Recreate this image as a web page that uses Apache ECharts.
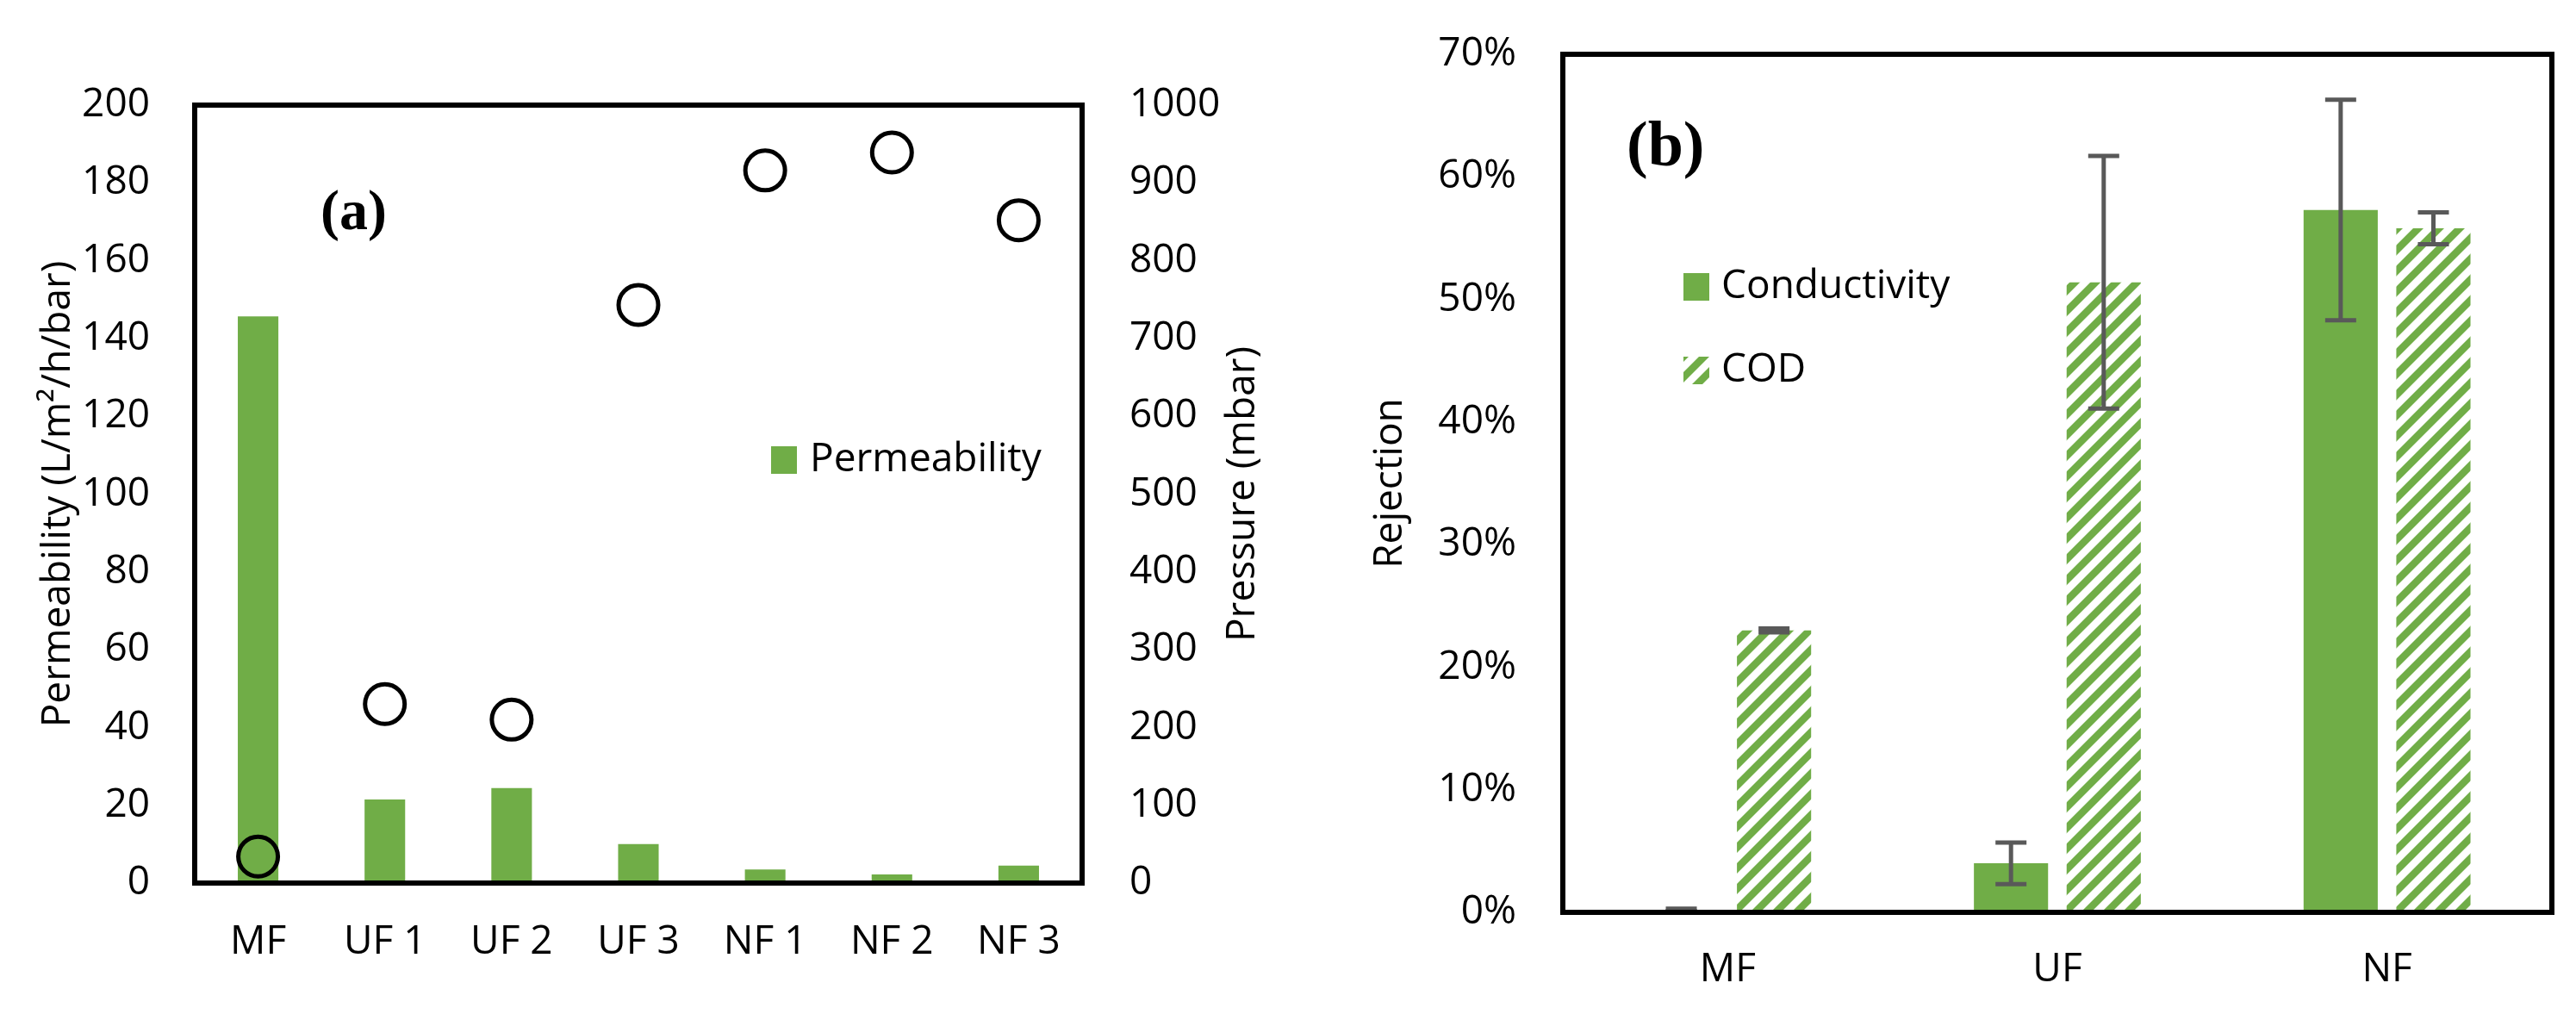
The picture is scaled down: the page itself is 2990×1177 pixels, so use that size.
<!DOCTYPE html>
<html>

<head>
    <meta charset="utf-8">
    <title>ECharts</title>
    <script src="https://cdn.jsdelivr.net/npm/echarts@6/dist/echarts.min.js"></script>
    <style>
        * {
            margin: 0;
            padding: 0;
        }
    </style>
</head>

<body>
    <div id="main" style="width: 100%; height: 100vh;"></div>
    <script type="text/javascript">

        // panel (a): membranes, permeability and pressure
        var membranes = ['MF', 'UF 1', 'UF 2', 'UF 3', 'NF 1', 'NF 2', 'NF 3'];
        var permeability = [145.7, 21.5, 24.4, 10, 3.5, 2.2, 4.5];
        var pressure = [34, 230, 210, 743, 916, 939, 852];

        // panel (b): rejection (%) with error bars
        var processes = ['MF', 'UF', 'NF'];
        var conductivity = [0.2, 4.0, 57.3];
        var conductivityErr = [0.1, 1.7, 9.0];
        var cod = [23.0, 51.4, 55.8];
        var codErr = [0.15, 10.3, 1.3];

        var green = '#70AD47';
        var font = 'Open Sans';

        // hatched fill for COD bars
        function stripes() {
            var c = document.createElement('canvas');
            c.width = 24;
            c.height = 24;
            var ctx = c.getContext('2d');
            ctx.fillStyle = '#fff';
            ctx.fillRect(0, 0, 24, 24);
            ctx.strokeStyle = green;
            ctx.lineWidth = 8.5;
            [0, 24, 48].forEach(function (k) {
                ctx.beginPath();
                ctx.moveTo(-4, k + 4);
                ctx.lineTo(k + 4, -4);
                ctx.stroke();
            });
            return { image: c, repeat: 'repeat' };
        }
        var hatch = stripes();

        // error bars drawn on top of the grouped bars of panel (b)
        function errorBars(values, errs, side) {
            return {
                type: 'custom',
                xAxisIndex: 1,
                yAxisIndex: 2,
                silent: true,
                z: 5,
                data: values.map(function (v, i) {
                    return [i, v - errs[i], v + errs[i]];
                }),
                encode: { x: 0, y: [1, 2] },
                renderItem: function (params, api) {
                    var band = api.size([1, 0])[0];
                    var barW = band * 0.225;
                    var x = api.coord([api.value(0), 0])[0] + side * (barW * 1.25) / 2;
                    var lo = api.coord([api.value(0), api.value(1)])[1];
                    var hi = api.coord([api.value(0), api.value(2)])[1];
                    var cap = 18;
                    var style = { stroke: '#595959', lineWidth: 5 };
                    return {
                        type: 'group',
                        children: [
                            { type: 'line', shape: { x1: x, y1: lo, x2: x, y2: hi }, style: style },
                            { type: 'line', shape: { x1: x - cap, y1: lo, x2: x + cap, y2: lo }, style: style },
                            { type: 'line', shape: { x1: x - cap, y1: hi, x2: x + cap, y2: hi }, style: style }
                        ]
                    };
                }
            };
        }

        var labelStyle = { color: '#000', fontFamily: font, fontSize: 46 };
        var nameStyle = { color: '#000', fontFamily: font, fontSize: 46 };
        var plain = function (v) { return String(v); };

        var myChart = echarts.init(document.getElementById('main'));
        var option = {
            backgroundColor: '#fff',
            animation: false,
            textStyle: { fontFamily: font },
            grid: [
                { left: 226, top: 122, width: 1030, height: 903, show: true, borderColor: '#000', borderWidth: 6 },
                { left: 1814, top: 63, width: 1148, height: 996, show: true, borderColor: '#000', borderWidth: 6 }
            ],
            legend: [
                {
                    data: ['Permeability'],
                    left: 895,
                    top: 508,
                    padding: 0,
                    icon: 'rect',
                    itemWidth: 30,
                    itemHeight: 32,
                    textStyle: { color: '#000', fontFamily: font, fontSize: 46, lineHeight: 52, padding: [0, 0, 0, 10] }
                },
                {
                    data: ['Conductivity', 'COD'],
                    orient: 'vertical',
                    left: 1954,
                    top: 307,
                    padding: 0,
                    icon: 'rect',
                    itemWidth: 30,
                    itemHeight: 32,
                    itemGap: 45,
                    textStyle: { color: '#000', fontFamily: font, fontSize: 46, lineHeight: 52, padding: [0, 0, 0, 9] }
                }
            ],
            xAxis: [
                {
                    type: 'category',
                    gridIndex: 0,
                    data: membranes,
                    z: 10,
                    axisLine: { lineStyle: { color: '#000', width: 6 } },
                    axisTick: { show: false },
                    axisLabel: Object.assign({ margin: 46 }, labelStyle)
                },
                {
                    type: 'category',
                    gridIndex: 1,
                    data: processes,
                    z: 10,
                    axisLine: { lineStyle: { color: '#000', width: 6 } },
                    axisTick: { show: false },
                    axisLabel: Object.assign({ margin: 44 }, labelStyle)
                }
            ],
            yAxis: [
                {
                    type: 'value',
                    gridIndex: 0,
                    min: 0,
                    max: 200,
                    interval: 20,
                    name: 'Permeability (L/m\u00B2/h/bar)',
                    nameLocation: 'middle',
                    nameRotate: 90,
                    nameGap: 132,
                    nameTextStyle: nameStyle,
                    axisLine: { show: false },
                    axisTick: { show: false },
                    splitLine: { show: false },
                    axisLabel: Object.assign({ margin: 52, formatter: plain }, labelStyle)
                },
                {
                    type: 'value',
                    gridIndex: 0,
                    position: 'right',
                    min: 0,
                    max: 1000,
                    interval: 100,
                    name: 'Pressure (mbar)',
                    nameLocation: 'middle',
                    nameRotate: 90,
                    nameGap: 106,
                    nameTextStyle: nameStyle,
                    axisLine: { show: false },
                    axisTick: { show: false },
                    splitLine: { show: false },
                    axisLabel: Object.assign({ margin: 55, formatter: plain }, labelStyle)
                },
                {
                    type: 'value',
                    gridIndex: 1,
                    min: 0,
                    max: 70,
                    interval: 10,
                    name: 'Rejection',
                    nameLocation: 'middle',
                    nameRotate: 90,
                    nameGap: 177,
                    nameTextStyle: nameStyle,
                    axisLine: { show: false },
                    axisTick: { show: false },
                    splitLine: { show: false },
                    axisLabel: Object.assign({ margin: 54, formatter: '{value}%' }, labelStyle)
                }
            ],
            graphic: [
                {
                    type: 'text',
                    left: 372,
                    top: 216,
                    style: { text: '(a)', fontFamily: 'Liberation Serif', fontWeight: 'bold', fontSize: 66, fill: '#000' }
                },
                {
                    type: 'text',
                    left: 1888,
                    top: 136,
                    style: { text: '(b)', fontFamily: 'Liberation Serif', fontWeight: 'bold', fontSize: 74, fill: '#000' }
                }
            ],
            series: [
                {
                    name: 'Permeability',
                    type: 'bar',
                    xAxisIndex: 0,
                    yAxisIndex: 0,
                    barWidth: '32%',
                    data: permeability,
                    itemStyle: { color: green }
                },
                {
                    name: 'Pressure',
                    type: 'scatter',
                    xAxisIndex: 0,
                    yAxisIndex: 1,
                    symbol: 'circle',
                    symbolSize: 46,
                    data: pressure,
                    itemStyle: { color: 'rgba(0,0,0,0)', borderColor: '#000', borderWidth: 5, opacity: 1 }
                },
                {
                    name: 'Conductivity',
                    type: 'bar',
                    xAxisIndex: 1,
                    yAxisIndex: 2,
                    barWidth: '22.5%',
                    barGap: '25%',
                    data: conductivity,
                    itemStyle: { color: green }
                },
                {
                    name: 'COD',
                    type: 'bar',
                    xAxisIndex: 1,
                    yAxisIndex: 2,
                    barWidth: '22.5%',
                    barGap: '25%',
                    data: cod,
                    itemStyle: { color: hatch }
                },
                errorBars(conductivity, conductivityErr, -1),
                errorBars(cod, codErr, 1)
            ]
        };

        myChart.setOption(option);
    </script>
</body>

</html>
